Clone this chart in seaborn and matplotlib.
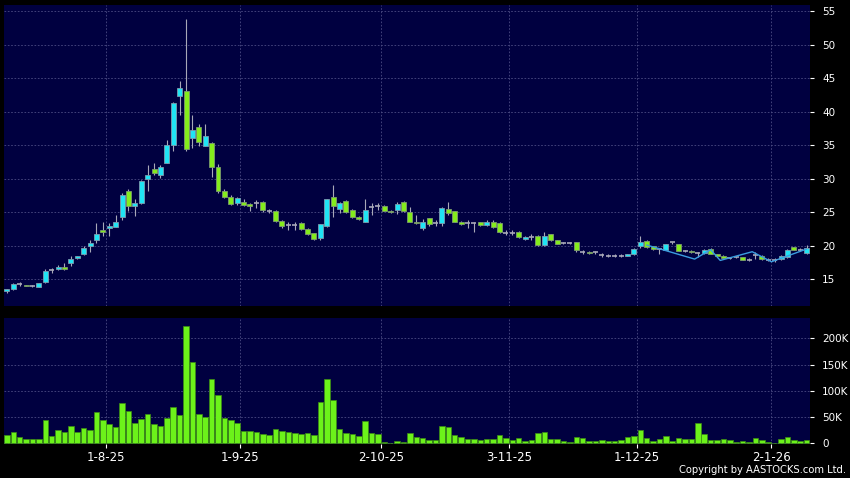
import numpy as np
import pandas as pd
import seaborn as sns
import matplotlib.pyplot as plt

# daily OHLC (one entry per trading day)
opens = [13.3, 13.5, 14.35, 14.15, 14.0, 13.9, 14.55, 16.35, 16.5, 16.75,
         17.4, 18.1, 18.7, 19.9, 20.9, 22.4, 22.6, 22.85, 24.25, 28.1,
         25.85, 26.35, 30.0, 31.4, 30.6, 32.4, 35.05, 42.3, 43.06, 36.0,
         37.7, 34.9, 35.3, 31.7, 28.2, 27.3, 26.35, 26.5, 26.2, 26.35,
         26.5, 25.2, 25.2, 23.65, 23.1, 23.1, 23.45, 22.55, 21.85, 21.2,
         22.95, 27.2, 25.45, 26.7, 25.3, 24.35, 23.6, 25.75, 25.95, 25.95,
         25.2, 25.35, 26.5, 25.0, 23.6, 22.6, 24.1, 23.35, 23.35, 25.5,
         25.1, 23.6, 23.35, 23.35, 23.5, 23.1, 23.5, 23.35, 21.95, 21.85,
         22.1, 21.0, 21.25, 21.5, 20.1, 21.7, 20.85, 20.45, 20.35, 20.5,
         19.05, 19.05, 19.0, 18.6, 18.5, 18.5, 18.5, 18.5, 18.7, 19.9,
         20.75, 19.9, 19.5, 19.4, 20.5, 20.25, 19.25, 19.25, 18.9, 18.9,
         19.5, 18.75, 18.5, 18.15, 18.25, 18.25, 17.9, 18.6, 18.5, 17.9,
         17.9, 18.0, 18.25, 19.75, 19.4, 18.9]
highs = [13.6, 14.4, 14.55, 14.2, 14.1, 14.5, 16.5, 16.6, 17.1, 17.4,
         18.4, 18.5, 19.9, 20.9, 23.4, 23.5, 23.4, 24.6, 27.9, 28.4,
         26.9, 29.8, 32.1, 32.3, 32.1, 35.7, 41.5, 44.5, 53.8, 39.5,
         38.1, 38.1, 35.4, 32.2, 28.5, 27.5, 27.2, 26.9, 26.4, 26.8,
         26.6, 25.4, 25.3, 23.8, 23.6, 23.6, 23.5, 22.6, 21.9, 23.3,
         27.0, 29.1, 26.5, 26.8, 25.4, 24.4, 27.0, 26.3, 26.4, 26.0,
         25.3, 26.5, 26.6, 25.8, 24.6, 24.0, 24.2, 23.9, 25.7, 26.5,
         25.2, 23.7, 23.85, 23.6, 23.6, 23.8, 23.9, 23.5, 22.4, 22.3,
         22.2, 21.5, 21.8, 21.6, 22.1, 21.8, 20.9, 20.6, 20.5, 20.6,
         19.4, 19.2, 19.2, 18.9, 18.8, 18.7, 18.7, 18.8, 19.6, 21.4,
         20.8, 20.0, 19.7, 20.3, 20.6, 20.3, 19.4, 19.3, 19.1, 19.5,
         19.6, 18.8, 18.6, 18.3, 18.4, 18.3, 18.1, 19.0, 18.6, 18.1,
         18.1, 18.6, 19.5, 19.8, 19.6, 20.1]
lows = [13.0, 13.4, 14.0, 13.95, 13.9, 13.8, 14.5, 15.9, 16.4, 16.3,
        16.9, 18.0, 18.6, 19.0, 20.4, 21.4, 21.4, 22.8, 23.9, 25.1,
        24.5, 26.2, 28.2, 30.5, 30.1, 32.3, 34.1, 39.5, 34.05, 34.5,
        34.9, 34.8, 30.3, 27.8, 27.1, 26.0, 26.0, 25.9, 25.1, 25.6,
        25.0, 24.9, 23.5, 22.6, 22.4, 22.4, 22.4, 21.6, 20.9, 20.9,
        22.8, 24.3, 24.9, 24.9, 24.1, 23.8, 23.5, 24.6, 25.3, 25.1,
        24.9, 24.8, 25.0, 23.5, 23.3, 22.4, 22.9, 22.95, 23.0, 24.6,
        23.5, 23.1, 22.6, 22.1, 23.0, 23.0, 22.6, 21.9, 21.6, 21.6,
        21.2, 20.9, 20.9, 20.0, 20.0, 20.7, 20.2, 20.3, 20.2, 19.1,
        18.7, 18.8, 18.7, 18.3, 18.3, 18.3, 18.3, 18.4, 18.6, 19.7,
        19.6, 19.4, 18.8, 19.3, 20.2, 19.2, 19.0, 18.9, 18.3, 18.8,
        18.7, 18.4, 18.1, 18.0, 18.1, 17.8, 17.7, 18.0, 17.9, 17.7,
        17.6, 17.9, 18.2, 19.3, 19.2, 18.8]
closes = [13.5, 14.25, 14.35, 14.0, 14.0, 14.4, 16.2, 16.35, 16.8, 16.5,
          18.0, 18.4, 19.7, 20.4, 21.8, 22.0, 22.9, 23.55, 27.5, 25.85,
          26.35, 29.6, 30.6, 30.9, 31.7, 35.05, 41.3, 43.5, 34.4, 37.3,
          35.5, 36.4, 31.7, 28.1, 27.3, 26.2, 27.1, 26.1, 25.95, 26.35,
          25.25, 25.2, 23.65, 22.95, 23.1, 23.1, 22.55, 21.7, 21.05, 23.2,
          26.95, 25.85, 26.35, 25.05, 24.35, 24.0, 25.3, 25.75, 25.95, 25.2,
          25.0, 26.2, 25.1, 23.6, 23.35, 23.6, 23.2, 23.35, 25.6, 24.85,
          23.6, 23.2, 23.35, 23.35, 23.1, 23.5, 22.75, 22.0, 21.95, 21.85,
          21.35, 21.35, 21.25, 20.1, 21.45, 20.85, 20.3, 20.45, 20.35, 19.3,
          19.05, 18.85, 19.0, 18.6, 18.5, 18.5, 18.5, 18.7, 19.5, 20.5,
          19.75, 19.5, 19.5, 20.25, 20.5, 19.25, 19.25, 19.0, 18.9, 19.4,
          18.75, 18.5, 18.15, 18.15, 18.25, 17.9, 17.9, 18.6, 18.0, 17.9,
          17.9, 18.5, 19.4, 19.4, 19.4, 19.6]
volumes_k = [15.8, 20.9, 11.4, 8.2, 7.6, 8.9, 44.3, 13.9, 24.7, 21.5,
             32.9, 21.5, 28.5, 25.3, 58.9, 44.3, 36.1, 30.4, 76.6, 60.8,
             38.6, 46.2, 55.7, 36.1, 33.5, 48.1, 69.0, 53.2, 224.0, 155.7,
             55.1, 50.6, 122.0, 91.8, 48.7, 44.3, 38.0, 24.0, 24.0, 21.5,
             17.1, 16.5, 27.2, 24.0, 22.2, 20.3, 17.7, 19.0, 15.8, 77.9,
             123.4, 82.3, 26.6, 19.0, 17.7, 13.3, 42.4, 19.0, 17.7, 1.9,
             0.6, 3.8, 1.9, 19.0, 12.0, 9.5, 7.0, 6.3, 32.9, 30.4,
             15.8, 12.0, 8.2, 8.2, 5.7, 7.6, 8.2, 15.8, 10.1, 5.7,
             10.8, 4.4, 7.0, 19.0, 21.5, 8.9, 8.9, 4.4, 3.2, 12.0,
             10.8, 4.4, 4.4, 5.7, 4.4, 4.4, 5.7, 11.4, 13.9, 24.7,
             10.1, 4.4, 7.6, 13.9, 4.4, 10.1, 7.6, 7.6, 38.0, 17.7,
             6.3, 6.3, 8.2, 5.7, 3.2, 4.4, 1.9, 9.5, 5.7, 3.2,
             0.3, 8.2, 12.0, 5.7, 4.4, 6.3]

# thin comparison line drawn over the last weeks
line_pos = [100, 107.5, 110, 111.5, 116.5, 119.5, 125]
line_vals = [20.1, 18.0, 19.4, 17.8, 19.1, 17.6, 19.5]

date_pos = [15.5, 36.5, 58.5, 78.5, 98.5, 119.5]
date_labels = ["1-8-25", "1-9-25", "2-10-25", "3-11-25", "1-12-25", "2-1-26"]
price_ticks = [15, 20, 25, 30, 35, 40, 45, 50, 55]
vol_ticks = [0, 50000, 100000, 150000, 200000]
vol_labels = ["0", "50K", "100K", "150K", "200K"]

df = pd.DataFrame({"open": opens, "high": highs, "low": lows,
                   "close": closes, "volume": np.array(volumes_k) * 1000})
df["idx"] = np.arange(len(df))

bg = "#000040"
grid_c = "#4c4c84"
up_c = "#20e4f4"
dn_c = "#84ec1c"
flat_c = "#a8a8b8"

sns.set_style("dark")
plt.rcParams["font.family"] = ["DejaVu Sans"]

fig = plt.figure(figsize=(8.5, 4.78), dpi=100, facecolor="black")
ax = fig.add_axes([0.0047, 0.3598, 0.948, 0.6297])
axv = fig.add_axes([0.0047, 0.0711, 0.948, 0.2636])

# candles
up = df[df.close > df.open]
dn = df[df.close < df.open]
fl = df[df.close == df.open]
ax.vlines(df.idx, df.low, df.high, color=flat_c, lw=0.8, zorder=2)
ax.bar(up.idx, up.close - up.open, bottom=up.open, width=0.78,
       color=up_c, edgecolor="#7c9cae", linewidth=0.6, zorder=3)
ax.bar(dn.idx, dn.open - dn.close, bottom=dn.close, width=0.78,
       color=dn_c, edgecolor="#7c9c6e", linewidth=0.6, zorder=3)
ax.hlines(fl.close, fl.idx - 0.39, fl.idx + 0.39, color=flat_c, lw=1.2, zorder=3)
sns.lineplot(x=line_pos, y=line_vals, ax=ax, color="#3a9ce0", lw=1.0, zorder=4)

# volume
sns.barplot(x=df.idx, y=df.volume, ax=axv, native_scale=True, width=0.86,
            color="#6cf21a", saturation=1, edgecolor="#3c8c14",
            linewidth=0.5, errorbar=None, zorder=3)

for a in (ax, axv):
    a.set_facecolor(bg)
    a.set_xlim(-0.45, 125.5)
    a.set_xticks(date_pos)
    a.grid(True, color=grid_c, linestyle=(0, (2, 2)), lw=0.6)
    a.set_axisbelow(True)
    for s in a.spines.values():
        s.set_visible(False)
    a.yaxis.tick_right()
    a.tick_params(axis="y", colors="white", labelcolor="white", length=3,
                  width=0.8, pad=6, labelsize=7.5, left=False, right=True)
    a.set_xlabel("")
    a.set_ylabel("")

ax.set_ylim(11.0, 55.9)
ax.set_yticks(price_ticks)
ax.set_yticklabels([str(t) for t in price_ticks])
ax.tick_params(axis="x", length=0, labelbottom=False)

axv.set_ylim(-1300, 238700)
axv.set_yticks(vol_ticks)
axv.set_yticklabels(vol_labels)
axv.set_xticklabels(date_labels)
axv.tick_params(axis="x", colors="white", labelcolor="white", length=3,
                width=0.8, pad=2, labelsize=8.5, bottom=True)

fig.text(0.9953, 0.0167, "Copyright by AASTOCKS.com Ltd.", ha="right",
         va="center", color="white", fontsize=7.2)

fig.savefig("out.png", dpi=100, facecolor="black")
